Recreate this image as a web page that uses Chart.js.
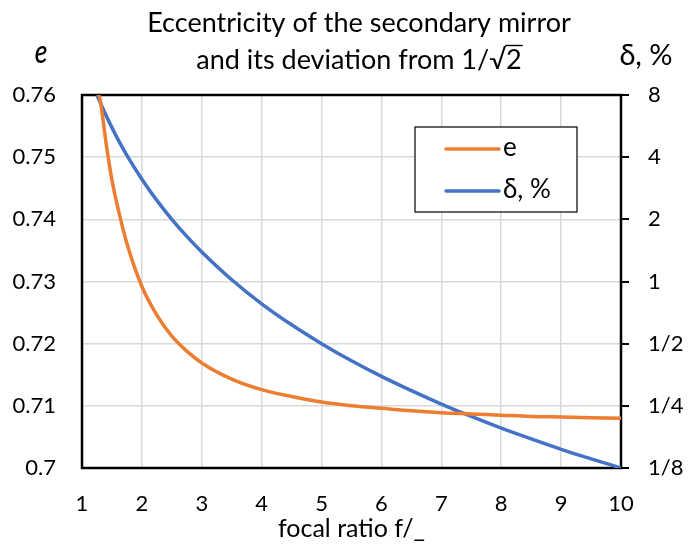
<!DOCTYPE html>
<html>
<head>
<meta charset="utf-8">
<script src="https://cdn.jsdelivr.net/npm/chart.js@4.4.1/dist/chart.umd.min.js"></script>
<style>
  html, body { margin: 0; padding: 0; background: #ffffff; }
  #wrap { width: 692px; height: 544px; position: relative; }
</style>
</head>
<body>
<div id="wrap"><canvas id="c" width="692" height="544"></canvas></div>
<script>
// ---- data ----
const focalE = [1.28, 1.3, 1.4, 1.5, 1.6, 1.75, 2, 2.25, 2.5, 2.75, 3, 3.5, 4, 4.5, 5, 5.5, 6, 6.5, 7, 7.5, 8, 8.5, 9, 9.5, 10];
const eccentricity = [0.760, 0.7594, 0.7524, 0.7463, 0.7418, 0.7361, 0.7292, 0.7246, 0.7212, 0.7188, 0.7169, 0.7143, 0.7126, 0.7115, 0.7106, 0.7100, 0.7096, 0.7092, 0.7089, 0.7087, 0.7085, 0.7083, 0.7082, 0.7081, 0.7080];
const focalD = [1.25, 1.3, 1.4, 1.5, 1.6, 1.75, 2, 2.25, 2.5, 2.75, 3, 3.5, 4, 4.5, 5, 5.5, 6, 6.5, 7, 7.5, 8, 8.5, 9, 9.5, 10];
const deviationPct = [8, 7.4, 6.38, 5.56, 4.88, 4.08, 3.13, 2.47, 2.0, 1.653, 1.39, 1.02, 0.78, 0.617, 0.5, 0.413, 0.347, 0.296, 0.255, 0.222, 0.195, 0.173, 0.154, 0.1385, 0.125];
const rightTickValues = [0.125, 0.25, 0.5, 1, 2, 4, 8];
const rightTickLabels = ["1/8", "1/4", "1/2", "1", "2", "4", "8"];
const seriesLabels = ["e", "δ, %"];
const titleLines = ["Eccentricity of the secondary mirror", "and its deviation from 1/√2"];
const xTitle = "focal ratio f/_";

const FONT = "Lato, 'Open Sans', 'DejaVu Sans', sans-serif";
const ORANGE = "#ED7D31";
const BLUE = "#4472C4";
const GRID = "#d9d9d9";

const overlay = {
  id: "overlay",
  beforeDatasetsDraw(chart) {
    const ctx = chart.ctx, a = chart.chartArea;
    ctx.save();
    ctx.strokeStyle = "#000";
    ctx.lineWidth = 2.5;
    ctx.strokeRect(a.left, a.top, a.right - a.left, a.bottom - a.top);
    ctx.restore();
  },
  afterDraw(chart) {
    const ctx = chart.ctx;
    ctx.save();
    ctx.fillStyle = "#000";
    ctx.textBaseline = "alphabetic";
    // title
    ctx.font = "27px " + FONT;
    ctx.textAlign = "left";
    const cx = 359;
    const w1 = ctx.measureText(titleLines[0]).width;
    ctx.fillText(titleLines[0], cx - w1 / 2, 32);
    const w2 = ctx.measureText(titleLines[1]).width;
    const x2 = cx - w2 / 2;
    ctx.fillText(titleLines[1], x2, 69);
    // overline above the "2" of sqrt
    const pre = titleLines[1].slice(0, -1);
    const xs = x2 + ctx.measureText(pre).width;
    const wl = ctx.measureText("2").width;
    ctx.strokeStyle = "#000";
    ctx.lineWidth = 1.4;
    ctx.beginPath();
    ctx.moveTo(xs - 1, 69 - 23.5);
    ctx.lineTo(xs + wl + 1, 69 - 23.5);
    ctx.stroke();
    // axis titles
    ctx.save();
    ctx.translate(41, 63);
    ctx.scale(0.8, 1);
    ctx.font = "italic 500 33px " + FONT;
    ctx.textAlign = "center";
    ctx.fillText("e", 0, 0);
    ctx.restore();
    ctx.font = "29px " + FONT;
    ctx.textAlign = "center";
    ctx.fillText("δ, %", 646, 65);
    // legend
    const lx = 415, ly = 127, lw = 162, lh = 85;
    ctx.fillStyle = "#fff";
    ctx.fillRect(lx, ly, lw, lh);
    ctx.strokeStyle = "#000";
    ctx.lineWidth = 1.2;
    ctx.strokeRect(lx, ly, lw, lh);
    ctx.font = "26px " + FONT;
    ctx.textAlign = "left";
    ctx.textBaseline = "middle";
    chart.data.datasets.forEach((ds, i) => {
      const yy = ly + 22 + i * 42;
      ctx.strokeStyle = ds.borderColor;
      ctx.lineWidth = 3.5;
      ctx.lineCap = "round";
      ctx.beginPath();
      ctx.moveTo(lx + 31, yy);
      ctx.lineTo(lx + 84, yy);
      ctx.stroke();
      ctx.fillStyle = "#000";
      ctx.fillText(ds.label, lx + 88, yy - 1);
    });
    ctx.restore();
  }
};

new Chart(document.getElementById("c"), {
  type: "line",
  data: {
    datasets: [
      {
        label: seriesLabels[0],
        data: focalE.map((x, i) => ({ x: x, y: eccentricity[i] })),
        borderColor: ORANGE,
        backgroundColor: ORANGE,
        borderWidth: 3.5,
        pointRadius: 0,
        cubicInterpolationMode: "monotone",
        yAxisID: "y"
      },
      {
        label: seriesLabels[1],
        data: focalD.map((x, i) => ({ x: x, y: deviationPct[i] })),
        borderColor: BLUE,
        backgroundColor: BLUE,
        borderWidth: 3.5,
        pointRadius: 0,
        cubicInterpolationMode: "monotone",
        yAxisID: "y2"
      }
    ]
  },
  options: {
    responsive: false,
    animation: false,
    layout: { padding: { top: 95, left: 0, right: 0, bottom: 0 } },
    plugins: { legend: { display: false }, title: { display: false }, tooltip: { enabled: false } },
    scales: {
      x: {
        type: "linear",
        min: 1, max: 10,
        ticks: { stepSize: 1, color: "#000", font: { size: 22, family: FONT }, padding: 23, maxRotation: 0 },
        grid: { color: GRID, lineWidth: 1.5, drawTicks: false },
        border: { display: false },
        title: { display: true, text: xTitle, color: "#000", font: { size: 25, family: FONT }, padding: { top: -4, bottom: 0 } },
        afterFit(s) { s.height = 76; }
      },
      y: {
        type: "linear",
        position: "left",
        min: 0.70, max: 0.76,
        ticks: { stepSize: 0.01, color: "#000", font: { size: 22, family: FONT }, padding: 26,
                 callback: v => String(+v.toFixed(2)) },
        grid: { color: GRID, lineWidth: 1.5, drawTicks: false },
        border: { display: false },
        afterFit(s) { s.width = 82; }
      },
      y2: {
        type: "logarithmic",
        position: "right",
        min: 0.125, max: 8,
        afterBuildTicks(s) { s.ticks = rightTickValues.map(v => ({ value: v })); },
        ticks: { color: "#000", font: { size: 22, family: FONT }, padding: 19,
                 callback: (v) => { const i = rightTickValues.indexOf(v); return i >= 0 ? rightTickLabels[i] : ""; } },
        grid: { drawOnChartArea: false, drawTicks: true, tickLength: 8, tickColor: "#000", lineWidth: 2 },
        border: { display: false },
        afterFit(s) { s.width = 71; }
      }
    }
  },
  plugins: [overlay]
});
</script>
</body>
</html>
